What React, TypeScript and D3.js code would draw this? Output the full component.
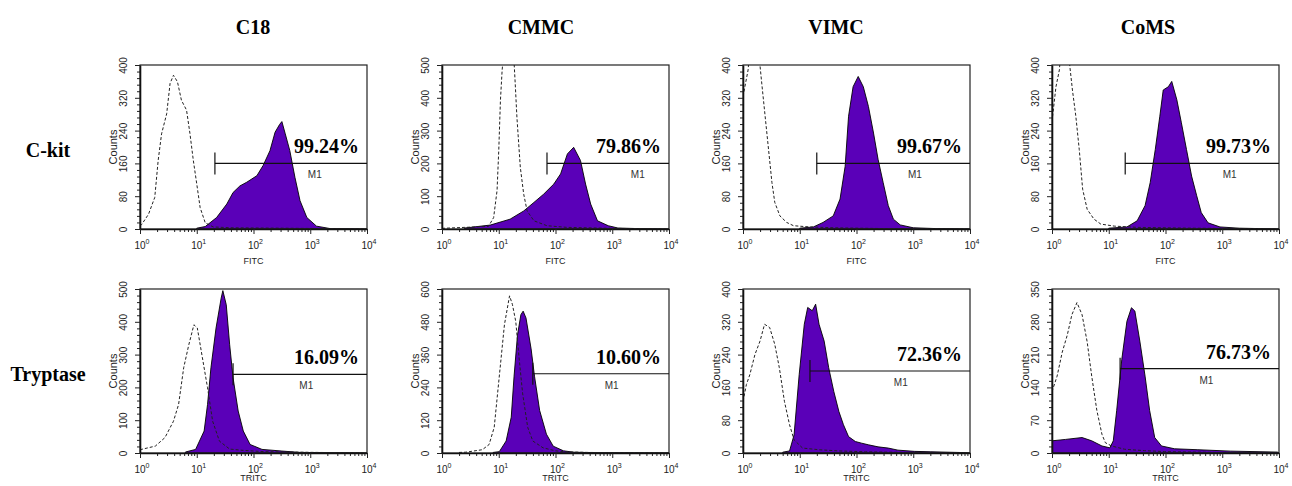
import React from 'react';
import * as d3 from 'd3';

const columns = ['C18', 'CMMC', 'VIMC', 'CoMS'];
const rows = ['C-kit', 'Tryptase'];
const channels = ['FITC', 'TRITC'];

// y-axis maximum per panel
const kitYMax = [400, 500, 400, 400];
const tryptaseYMax = [500, 600, 400, 350];

// M1 marker: start (decades), level (counts), label position (decades), percent
const kitGateStart = [1.32, 1.85, 1.30, 1.29];
const kitGateLevel = [160, 200, 160, 160];
const kitM1At = [3.08, 3.45, 3.03, 3.13];
const kitPercent = ['99.24%', '79.86%', '99.67%', '99.73%'];
const tryptaseGateStart = [1.64, 1.60, 1.18, 1.20];
const tryptaseGateLevel = [240, 290, 200, 180];
const tryptaseM1At = [2.93, 2.99, 2.78, 2.72];
const tryptasePercent = ['16.09%', '10.60%', '72.36%', '76.73%'];

// histograms: [decade (log10 of intensity), counts]
const c18KitControl = [[0, 8], [0.03, 11], [0.15, 36], [0.26, 77], [0.32, 167], [0.38, 232], [0.47, 281], [0.53, 355], [0.59, 375], [0.66, 359], [0.73, 314], [0.82, 290], [0.88, 233], [0.94, 167], [1.0, 110], [1.06, 52], [1.15, 15], [1.29, 5], [1.6, 3], [2.5, 2], [4, 0]];
const c18KitStained = [[1.0, 2], [1.15, 6], [1.35, 28], [1.53, 61], [1.64, 89], [1.76, 105], [1.88, 114], [2.06, 130], [2.17, 155], [2.29, 191], [2.38, 236], [2.46, 255], [2.5, 262], [2.56, 232], [2.64, 191], [2.73, 126], [2.82, 69], [2.94, 28], [3.11, 7], [3.35, 1], [4, 0]];
const cmmcKitControl = [[0, 2], [0.82, 8], [0.91, 35], [0.97, 117], [1.0, 239], [1.03, 393], [1.06, 485], [1.09, 540], [1.26, 540], [1.29, 444], [1.32, 341], [1.38, 188], [1.44, 106], [1.5, 55], [1.62, 25], [1.85, 10], [2.2, 5], [3, 2], [4, 0]];
const cmmcKitStained = [[0.4, 3], [0.85, 12], [1.2, 30], [1.44, 55], [1.62, 81], [1.79, 106], [1.97, 137], [2.09, 168], [2.21, 229], [2.32, 249], [2.44, 209], [2.53, 137], [2.62, 76], [2.74, 25], [2.93, 10], [3.1, 3], [3.5, 1], [4, 0]];
const vimcKitControl = [[0, 323], [0.09, 388], [0.12, 440], [0.27, 440], [0.33, 356], [0.39, 275], [0.45, 194], [0.51, 113], [0.56, 65], [0.65, 32], [0.77, 16], [0.89, 8], [1.18, 5], [1.6, 3], [2.5, 1], [4, 0]];
const vimcKitStained = [[1.0, 2], [1.24, 5], [1.41, 16], [1.59, 32], [1.71, 73], [1.8, 153], [1.86, 275], [1.94, 347], [2.03, 372], [2.12, 347], [2.21, 299], [2.3, 234], [2.38, 170], [2.47, 113], [2.56, 57], [2.65, 24], [2.77, 10], [3.0, 3], [3.4, 1], [4, 0]];
const comsKitControl = [[0, 262], [0.07, 347], [0.13, 388], [0.16, 440], [0.28, 440], [0.36, 339], [0.42, 275], [0.48, 194], [0.54, 97], [0.62, 48], [0.74, 24], [0.86, 12], [1.1, 7], [1.5, 4], [2.5, 2], [4, 0]];
const comsKitStained = [[1.0, 2], [1.32, 5], [1.5, 20], [1.64, 57], [1.73, 113], [1.82, 194], [1.9, 275], [1.96, 339], [2.05, 347], [2.11, 360], [2.2, 315], [2.28, 259], [2.37, 194], [2.46, 129], [2.55, 81], [2.63, 40], [2.75, 15], [2.96, 5], [3.3, 2], [4, 0]];

const c18TryControl = [[0, 10], [0.27, 21], [0.44, 47], [0.59, 97], [0.68, 148], [0.77, 260], [0.86, 330], [0.95, 391], [1.01, 381], [1.1, 290], [1.19, 199], [1.28, 97], [1.4, 36], [1.58, 12], [1.82, 8], [2.2, 4], [3, 2], [4, 0]];
const c18TryStained = [[0.8, 3], [0.98, 11], [1.13, 67], [1.19, 148], [1.25, 260], [1.34, 381], [1.43, 472], [1.46, 495], [1.52, 452], [1.58, 330], [1.64, 229], [1.73, 128], [1.82, 67], [1.94, 26], [2.15, 11], [2.5, 6], [2.8, 2], [3.2, 1], [4, 0]];
const cmmcTryControl = [[0.3, 2], [0.42, 3], [0.71, 12], [0.83, 31], [0.92, 94], [0.98, 219], [1.04, 344], [1.1, 469], [1.19, 575], [1.24, 544], [1.3, 481], [1.36, 344], [1.42, 219], [1.51, 94], [1.6, 44], [1.78, 19], [2.0, 8], [2.18, 4], [2.6, 2], [4, 0]];
const cmmcTryStained = [[0.9, 2], [1.01, 5], [1.13, 44], [1.22, 131], [1.27, 281], [1.33, 431], [1.39, 506], [1.43, 519], [1.48, 494], [1.57, 381], [1.63, 281], [1.72, 156], [1.84, 69], [1.96, 25], [2.14, 8], [2.32, 3], [2.7, 1], [4, 0]];
const vimcTryControl = [[0, 126], [0.06, 167], [0.12, 191], [0.21, 240], [0.3, 273], [0.38, 314], [0.47, 306], [0.56, 265], [0.64, 208], [0.73, 126], [0.82, 69], [0.9, 32], [1.05, 12], [1.34, 8], [1.69, 5], [2.16, 3], [3, 1], [4, 0]];
const vimcTryStained = [[0.7, 2], [0.82, 5], [0.9, 44], [0.99, 191], [1.08, 314], [1.14, 355], [1.22, 347], [1.28, 363], [1.34, 314], [1.43, 273], [1.51, 208], [1.6, 150], [1.69, 101], [1.77, 69], [1.86, 40], [1.98, 28], [2.09, 24], [2.21, 20], [2.38, 15], [2.56, 12], [2.73, 7], [3.02, 4], [3.31, 3], [3.89, 1], [4, 0]];
const comsTryControl = [[0, 131], [0.09, 164], [0.18, 215], [0.27, 252], [0.35, 295], [0.44, 321], [0.53, 295], [0.62, 237], [0.7, 164], [0.79, 91], [0.88, 40], [0.94, 22], [1.05, 15], [1.28, 8], [1.63, 5], [1.98, 3], [3, 1], [4, 0]];
const comsTryStained = [[0, 26], [0.24, 29], [0.53, 33], [0.7, 26], [0.88, 15], [1.02, 11], [1.08, 26], [1.14, 91], [1.23, 200], [1.32, 281], [1.4, 310], [1.46, 303], [1.55, 237], [1.64, 164], [1.72, 91], [1.81, 33], [1.93, 15], [2.16, 9], [2.57, 7], [3.15, 4], [3.97, 2], [4, 0]];

const kitControls = [c18KitControl, cmmcKitControl, vimcKitControl, comsKitControl];
const kitStained = [c18KitStained, cmmcKitStained, vimcKitStained, comsKitStained];
const tryControls = [c18TryControl, cmmcTryControl, vimcTryControl, comsTryControl];
const tryStained = [c18TryStained, cmmcTryStained, vimcTryStained, comsTryStained];

// layout
const WIDTH = 1292;
const HEIGHT = 486;
const colLeft = [140, 442, 743, 1052];
const titleX = [253, 541, 836, 1148];
const rowTop = [65, 289];
const plotW = 227;
const plotH = 164;
const PURPLE = '#5a00b8';
const SANS = '"Liberation Sans", Arial, sans-serif';
const SERIF = '"Liberation Serif", "Times New Roman", serif';

const App = () => {
  const ref = React.useRef<SVGSVGElement>(null);

  React.useEffect(() => {
    const svg = d3.select(ref.current);
    svg.selectAll('*').remove();

    const panels = rows.flatMap((row, r) => columns.map((col, c) => ({
      r, c,
      control: r === 0 ? kitControls[c] : tryControls[c],
      stained: r === 0 ? kitStained[c] : tryStained[c],
      yMax: r === 0 ? kitYMax[c] : tryptaseYMax[c],
      gateStart: r === 0 ? kitGateStart[c] : tryptaseGateStart[c],
      gateLevel: r === 0 ? kitGateLevel[c] : tryptaseGateLevel[c],
      m1At: r === 0 ? kitM1At[c] : tryptaseM1At[c],
      percent: r === 0 ? kitPercent[c] : tryptasePercent[c],
      channel: channels[r],
    })));

    const defs = svg.append('defs');

    panels.forEach((p, i) => {
      const left = colLeft[p.c];
      const top = rowTop[p.r];
      const x = d3.scaleLog().domain([1, 1e4]).range([left, left + plotW]);
      const y = d3.scaleLinear().domain([0, p.yMax]).range([top + plotH, top]);
      const g = svg.append('g');

      const clipId = `clip-${i}`;
      defs.append('clipPath').attr('id', clipId)
        .append('rect')
        .attr('x', left).attr('y', top)
        .attr('width', plotW).attr('height', plotH);

      const area = d3.area<number[]>()
        .x(d => x(10 ** d[0]))
        .y0(y(0))
        .y1(d => y(d[1]));
      const line = d3.line<number[]>()
        .x(d => x(10 ** d[0]))
        .y(d => y(d[1]));

      // stained sample, filled
      g.append('path')
        .datum(p.stained)
        .attr('d', area)
        .attr('clip-path', `url(#${clipId})`)
        .attr('fill', PURPLE)
        .attr('stroke', '#000')
        .attr('stroke-width', 0.9);

      // isotype control, dashed
      g.append('path')
        .datum(p.control)
        .attr('d', line)
        .attr('clip-path', `url(#${clipId})`)
        .attr('fill', 'none')
        .attr('stroke', '#222')
        .attr('stroke-width', 1)
        .attr('stroke-dasharray', '3,2');

      // frame
      g.append('rect')
        .attr('x', left).attr('y', top)
        .attr('width', plotW).attr('height', plotH)
        .attr('fill', 'none')
        .attr('stroke', '#222')
        .attr('stroke-width', 1.2);

      // y axis
      const step = p.yMax / 5;
      const major = d3.range(0, p.yMax + 1, step);
      const minor = d3.range(0, p.yMax, step / 5).filter((v, k) => k % 5 !== 0);

      const yMinor = g.append('g')
        .attr('transform', `translate(${left},0)`)
        .call(d3.axisLeft(y).tickValues(minor).tickSize(3).tickFormat(() => ''));
      yMinor.select('.domain').remove();
      yMinor.selectAll('line').attr('stroke', '#222');

      const yAxis = g.append('g')
        .attr('transform', `translate(${left},0)`)
        .call(d3.axisLeft(y).tickValues(major).tickSize(5).tickSizeOuter(0).tickFormat(d3.format('d')));
      yAxis.select('.domain').attr('stroke', '#111').attr('stroke-width', 1.6);
      yAxis.selectAll('line').attr('stroke', '#222');
      yAxis.selectAll('text')
        .attr('transform', 'rotate(-90)')
        .attr('x', 0)
        .attr('y', -13)
        .attr('dy', 0)
        .attr('text-anchor', 'middle')
        .style('font-family', SANS)
        .style('font-size', '10px')
        .style('fill', '#222');

      g.append('text')
        .attr('transform', `translate(${left - 27},${top + plotH / 2}) rotate(-90)`)
        .attr('text-anchor', 'middle')
        .attr('dy', '0.35em')
        .style('font-family', SANS)
        .style('font-size', '11px')
        .style('fill', '#222')
        .text('Counts');

      // x axis (log)
      const decades = [1, 10, 100, 1000, 10000];
      const xMinor = decades.slice(0, 4).flatMap(dv => d3.range(2, 10).map(k => k * dv));
      const xm = g.append('g')
        .attr('transform', `translate(0,${top + plotH})`)
        .call(d3.axisBottom(x).tickValues(xMinor).tickSize(3).tickFormat(() => ''));
      xm.select('.domain').remove();
      xm.selectAll('line').attr('stroke', '#222');

      const xAxis = g.append('g')
        .attr('transform', `translate(0,${top + plotH})`)
        .call(d3.axisBottom(x).tickValues(decades).tickSize(5).tickSizeOuter(0).tickFormat(() => ''));
      xAxis.select('.domain').attr('stroke', '#111').attr('stroke-width', 1.6);
      xAxis.selectAll('line').attr('stroke', '#222');

      const xl = g.selectAll(null)
        .data(decades)
        .enter()
        .append('text')
        .attr('x', d => x(d) + 2)
        .attr('y', top + plotH + 20)
        .attr('text-anchor', 'middle')
        .style('font-family', SANS)
        .style('font-size', '10px')
        .style('fill', '#222');
      xl.append('tspan').text('10');
      xl.append('tspan')
        .attr('dy', -5)
        .style('font-size', '7px')
        .text(d => String(Math.round(Math.log10(d))));

      g.append('text')
        .attr('x', left + plotW / 2)
        .attr('y', Math.min(top + plotH + 35, HEIGHT - 5))
        .attr('text-anchor', 'middle')
        .style('font-family', SANS)
        .style('font-size', '9px')
        .style('fill', '#222')
        .text(p.channel);

      // M1 marker
      const gy = y(p.gateLevel);
      const gx = x(10 ** p.gateStart);
      g.append('line')
        .attr('x1', gx).attr('x2', left + plotW)
        .attr('y1', gy).attr('y2', gy)
        .attr('stroke', '#111').attr('stroke-width', 1.2);
      g.append('line')
        .attr('x1', gx).attr('x2', gx)
        .attr('y1', gy - 11).attr('y2', gy + 11)
        .attr('stroke', '#111').attr('stroke-width', 1.2);
      g.append('text')
        .attr('x', x(10 ** p.m1At))
        .attr('y', gy + 15)
        .attr('text-anchor', 'middle')
        .style('font-family', SANS)
        .style('font-size', '10px')
        .style('fill', '#333')
        .text('M1');
      g.append('text')
        .attr('x', left + plotW - 8)
        .attr('y', gy - 10)
        .attr('text-anchor', 'end')
        .style('font-family', SERIF)
        .style('font-size', '20px')
        .style('font-weight', 'bold')
        .style('fill', '#000')
        .text(p.percent);
    });

    // column titles
    svg.selectAll('.col-title')
      .data(columns)
      .enter()
      .append('text')
      .attr('class', 'col-title')
      .attr('x', (d, i) => titleX[i])
      .attr('y', 34)
      .attr('text-anchor', 'middle')
      .style('font-family', SERIF)
      .style('font-size', '20px')
      .style('font-weight', 'bold')
      .text(d => d);

    // row labels
    svg.selectAll('.row-title')
      .data(rows)
      .enter()
      .append('text')
      .attr('class', 'row-title')
      .attr('x', 48)
      .attr('y', (d, i) => rowTop[i] + 92)
      .attr('text-anchor', 'middle')
      .style('font-family', SERIF)
      .style('font-size', '20px')
      .style('font-weight', 'bold')
      .text(d => d);
  }, []);

  return (
    <div style={{ position: 'fixed', left: 0, top: 0, background: '#fff' }}>
      <svg ref={ref} width={WIDTH} height={HEIGHT} />
    </div>
  );
};

export default App;
